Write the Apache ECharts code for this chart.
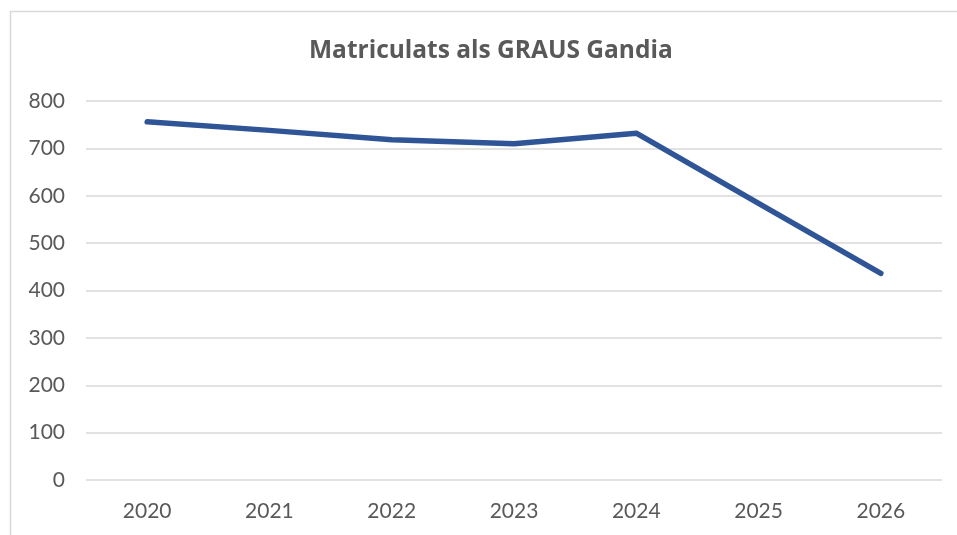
<!DOCTYPE html>
<html>
<head>
<meta charset="utf-8">
<script src="https://cdn.jsdelivr.net/npm/echarts@6/dist/echarts.min.js"></script>
<style>
  html, body { margin: 0; padding: 0; background: #fff; }
  #main { width: 957px; height: 535px; }
</style>
</head>
<body>
<div id="main"></div>
<script>
var years = ['2020', '2021', '2022', '2023', '2024', '2025', '2026'];
var matriculats = [756, 738, 718, 710, 732, 584, 436];

var chart = echarts.init(document.getElementById('main'));

var option = {
  backgroundColor: '#fff',
  textStyle: { fontFamily: 'Lato, "Open Sans", sans-serif' },
  title: {
    text: 'Matriculats als GRAUS Gandia',
    left: 304,
    top: 34,
    textStyle: { color: '#595959', fontSize: 24.5, fontWeight: 'bold', fontFamily: '"Open Sans", Lato, sans-serif' }
  },
  // Excel-style chart frame (right and bottom edges fall outside the picture)
  graphic: [{
    type: 'rect',
    shape: { x: 10.5, y: 11.5, width: 960, height: 540 },
    style: { fill: 'none', stroke: '#d9d9d9', lineWidth: 1.5 },
    silent: true
  }],
  grid: { left: 86, right: 15, top: 101, bottom: 55 },
  xAxis: {
    type: 'category',
    data: years,
    boundaryGap: true,
    axisLine: { show: false },
    axisTick: { show: false },
    axisLabel: { color: '#595959', fontSize: 21, margin: 21 }
  },
  yAxis: {
    type: 'value',
    min: 0,
    max: 800,
    interval: 100,
    axisLine: { show: false },
    axisTick: { show: false },
    axisLabel: { color: '#595959', fontSize: 21, margin: 21 },
    splitLine: { lineStyle: { color: '#d9d9d9', width: 1.5 } }
  },
  series: [{
    type: 'line',
    data: matriculats,
    symbol: 'none',
    lineStyle: { color: '#2f5597', width: 5.5, cap: 'round', join: 'round' },
    itemStyle: { color: '#2f5597' }
  }]
};

chart.setOption(option);
</script>
</body>
</html>
